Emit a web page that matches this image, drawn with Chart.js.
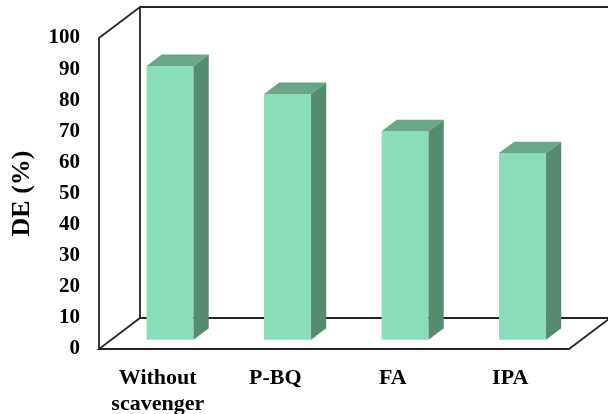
<!DOCTYPE html>
<html>
<head>
<meta charset="utf-8">
<title>DE (%)</title>
<script src="https://cdn.jsdelivr.net/npm/chart.js@4/dist/chart.umd.min.js"></script>
<style>
    html, body { margin: 0; padding: 0; background: #ffffff; }
    #wrap { width: 608px; height: 414px; }
</style>
</head>
<body>
<div id="wrap"><canvas id="chart" width="608" height="414"></canvas></div>
<script>
// Degradation efficiency with and without scavengers
const scavengers = [['Without', 'scavenger'], 'P-BQ', 'FA', 'IPA'];
const efficiency = [88, 79, 67, 60];
const yTicks = [0, 10, 20, 30, 40, 50, 60, 70, 80, 90, 100];

const serif = '"Liberation Serif", "Times New Roman", serif';

// Depth of the 3D box and where the bars sit inside it
const DEPTH_X = 41;
const DEPTH_Y = -31;
const BAR_FRONT = 0.30;
const BAR_BACK = 0.67;

const colors = {
    front: '#8ADDB9',
    side: '#578B70',
    top: '#68A787',
    frame: '#262626'
};

// Draws the walls and floor, shifts the bars into the box and adds their side and top faces
const box3d = {
    id: 'box3d',
    beforeDatasetsDraw(chart) {
        const ctx = chart.ctx;
        const area = chart.chartArea;
        const l = area.left, r = area.right, t = area.top, b = area.bottom;

        ctx.save();
        ctx.strokeStyle = colors.frame;
        ctx.lineWidth = 1.8;
        ctx.lineJoin = 'miter';

        // left wall
        ctx.beginPath();
        ctx.moveTo(l, b);
        ctx.lineTo(l, t);
        ctx.lineTo(l + DEPTH_X, t + DEPTH_Y);
        ctx.lineTo(l + DEPTH_X, b + DEPTH_Y);
        ctx.stroke();

        // back wall top edge
        ctx.beginPath();
        ctx.moveTo(l + DEPTH_X, t + DEPTH_Y);
        ctx.lineTo(chart.width + 5, t + DEPTH_Y);
        ctx.stroke();

        // floor
        ctx.beginPath();
        ctx.moveTo(l + DEPTH_X, b + DEPTH_Y);
        ctx.lineTo(r + DEPTH_X, b + DEPTH_Y);
        ctx.lineTo(r, b);
        ctx.lineTo(l, b);
        ctx.closePath();
        ctx.stroke();
        ctx.restore();

        ctx.save();
        ctx.translate(BAR_FRONT * DEPTH_X, BAR_FRONT * DEPTH_Y);
    },
    afterDatasetsDraw(chart) {
        const ctx = chart.ctx;
        const dx = (BAR_BACK - BAR_FRONT) * DEPTH_X;
        const dy = (BAR_BACK - BAR_FRONT) * DEPTH_Y;
        const meta = chart.getDatasetMeta(0);

        meta.data.forEach(bar => {
            const p = bar.getProps(['x', 'y', 'base', 'width'], true);
            const x0 = p.x - p.width / 2;
            const x1 = p.x + p.width / 2;

            // side face
            ctx.beginPath();
            ctx.moveTo(x1, p.y);
            ctx.lineTo(x1 + dx, p.y + dy);
            ctx.lineTo(x1 + dx, p.base + dy);
            ctx.lineTo(x1, p.base);
            ctx.closePath();
            ctx.fillStyle = colors.side;
            ctx.fill();

            // top face
            ctx.beginPath();
            ctx.moveTo(x0, p.y);
            ctx.lineTo(x0 + dx, p.y + dy);
            ctx.lineTo(x1 + dx, p.y + dy);
            ctx.lineTo(x1, p.y);
            ctx.closePath();
            ctx.fillStyle = colors.top;
            ctx.fill();
        });

        ctx.restore();
    }
};

const ctx = document.getElementById('chart').getContext('2d');
new Chart(ctx, {
    type: 'bar',
    data: {
        labels: scavengers,
        datasets: [{
            label: 'DE (%)',
            data: efficiency,
            backgroundColor: colors.front,
            borderWidth: 0,
            barPercentage: 0.4,
            categoryPercentage: 1.0,
            clip: false
        }]
    },
    options: {
        responsive: false,
        animation: false,
        devicePixelRatio: 1,
        layout: {
            padding: { top: 38, right: 39, left: 0, bottom: 0 }
        },
        plugins: {
            legend: { display: false },
            tooltip: { enabled: false }
        },
        scales: {
            x: {
                grid: { display: false },
                border: { display: false },
                ticks: {
                    color: '#000',
                    padding: 8,
                    maxRotation: 0,
                    font: { family: serif, size: 22, weight: 'bold', lineHeight: 1.18 }
                },
                afterFit(scale) { scale.height = 65; }
            },
            y: {
                min: 0,
                max: 100,
                grid: { display: false },
                border: { display: false },
                afterBuildTicks(scale) {
                    scale.ticks = yTicks.map(v => ({ value: v }));
                },
                ticks: {
                    color: '#000',
                    padding: 11,
                    font: { family: serif, size: 21, weight: 'bold' }
                },
                title: {
                    display: true,
                    text: 'DE (%)',
                    color: '#000',
                    padding: { top: 7, bottom: 0 },
                    font: { family: serif, size: 26, weight: 'bold' }
                },
                afterFit(scale) { scale.width = 99; }
            }
        }
    },
    plugins: [box3d]
});
</script>
</body>
</html>
